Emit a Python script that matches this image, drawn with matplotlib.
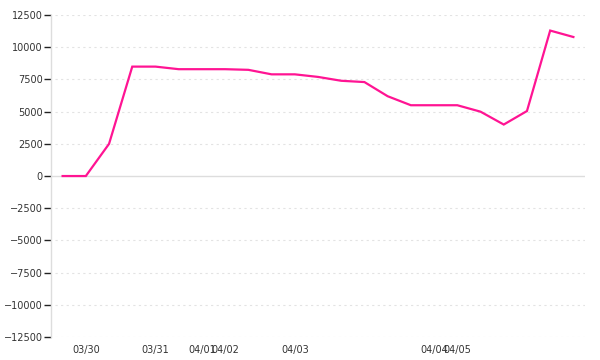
import matplotlib
matplotlib.use("Agg")
import matplotlib.pyplot as plt

# valeurs (un point par pas)
values = [0, 0, 2500, 8500, 8500, 8300, 8300, 8300, 8250, 7900, 7900,
          7700, 7400, 7300, 6200, 5500, 5500, 5500, 5000, 4000, 5050,
          11300, 10800]
tick_pos = [1, 4, 6, 7, 10, 16, 17]
tick_labels = ["03/30", "03/31", "04/01", "04/02", "04/03", "04/04", "04/05"]
y_ticks = list(range(-12500, 12501, 2500))

fig = plt.figure(figsize=(6, 3.6), dpi=100)
ax = fig.add_axes([0.085, 0.064, 0.89, 0.894])

x = list(range(len(values)))
ax.plot(x, values, color="#ff1493", lw=1.6, solid_joinstyle="miter", zorder=3)

ax.set_xlim(-0.5, len(values) - 0.5)
ax.set_ylim(-12500, 12500)

# grille pointillée + ligne du zéro
for v in y_ticks:
    if v == 0:
        ax.axhline(0, color="#dddddd", lw=1, zorder=1)
    else:
        ax.axhline(v, xmin=0.008, color="#e3e3e3", lw=0.8,
                   linestyle=(0, (2, 3)), zorder=1)

ax.set_yticks(y_ticks)
ax.set_yticklabels([str(v).replace("-", "\u2212") for v in y_ticks])
ax.set_xticks(tick_pos)
ax.set_xticklabels(tick_labels)

ax.tick_params(axis="y", length=5, width=1, color="#222222", pad=1,
               labelsize=7, labelcolor="#333333")
ax.tick_params(axis="x", length=0, pad=6, labelsize=7, labelcolor="#333333")

for s in ["top", "right", "bottom"]:
    ax.spines[s].set_visible(False)
ax.spines["left"].set_color("#dddddd")
ax.spines["left"].set_linewidth(1)
ax.spines["left"].set_bounds(-12500, 12500)

fig.savefig("out.png", dpi=100)
